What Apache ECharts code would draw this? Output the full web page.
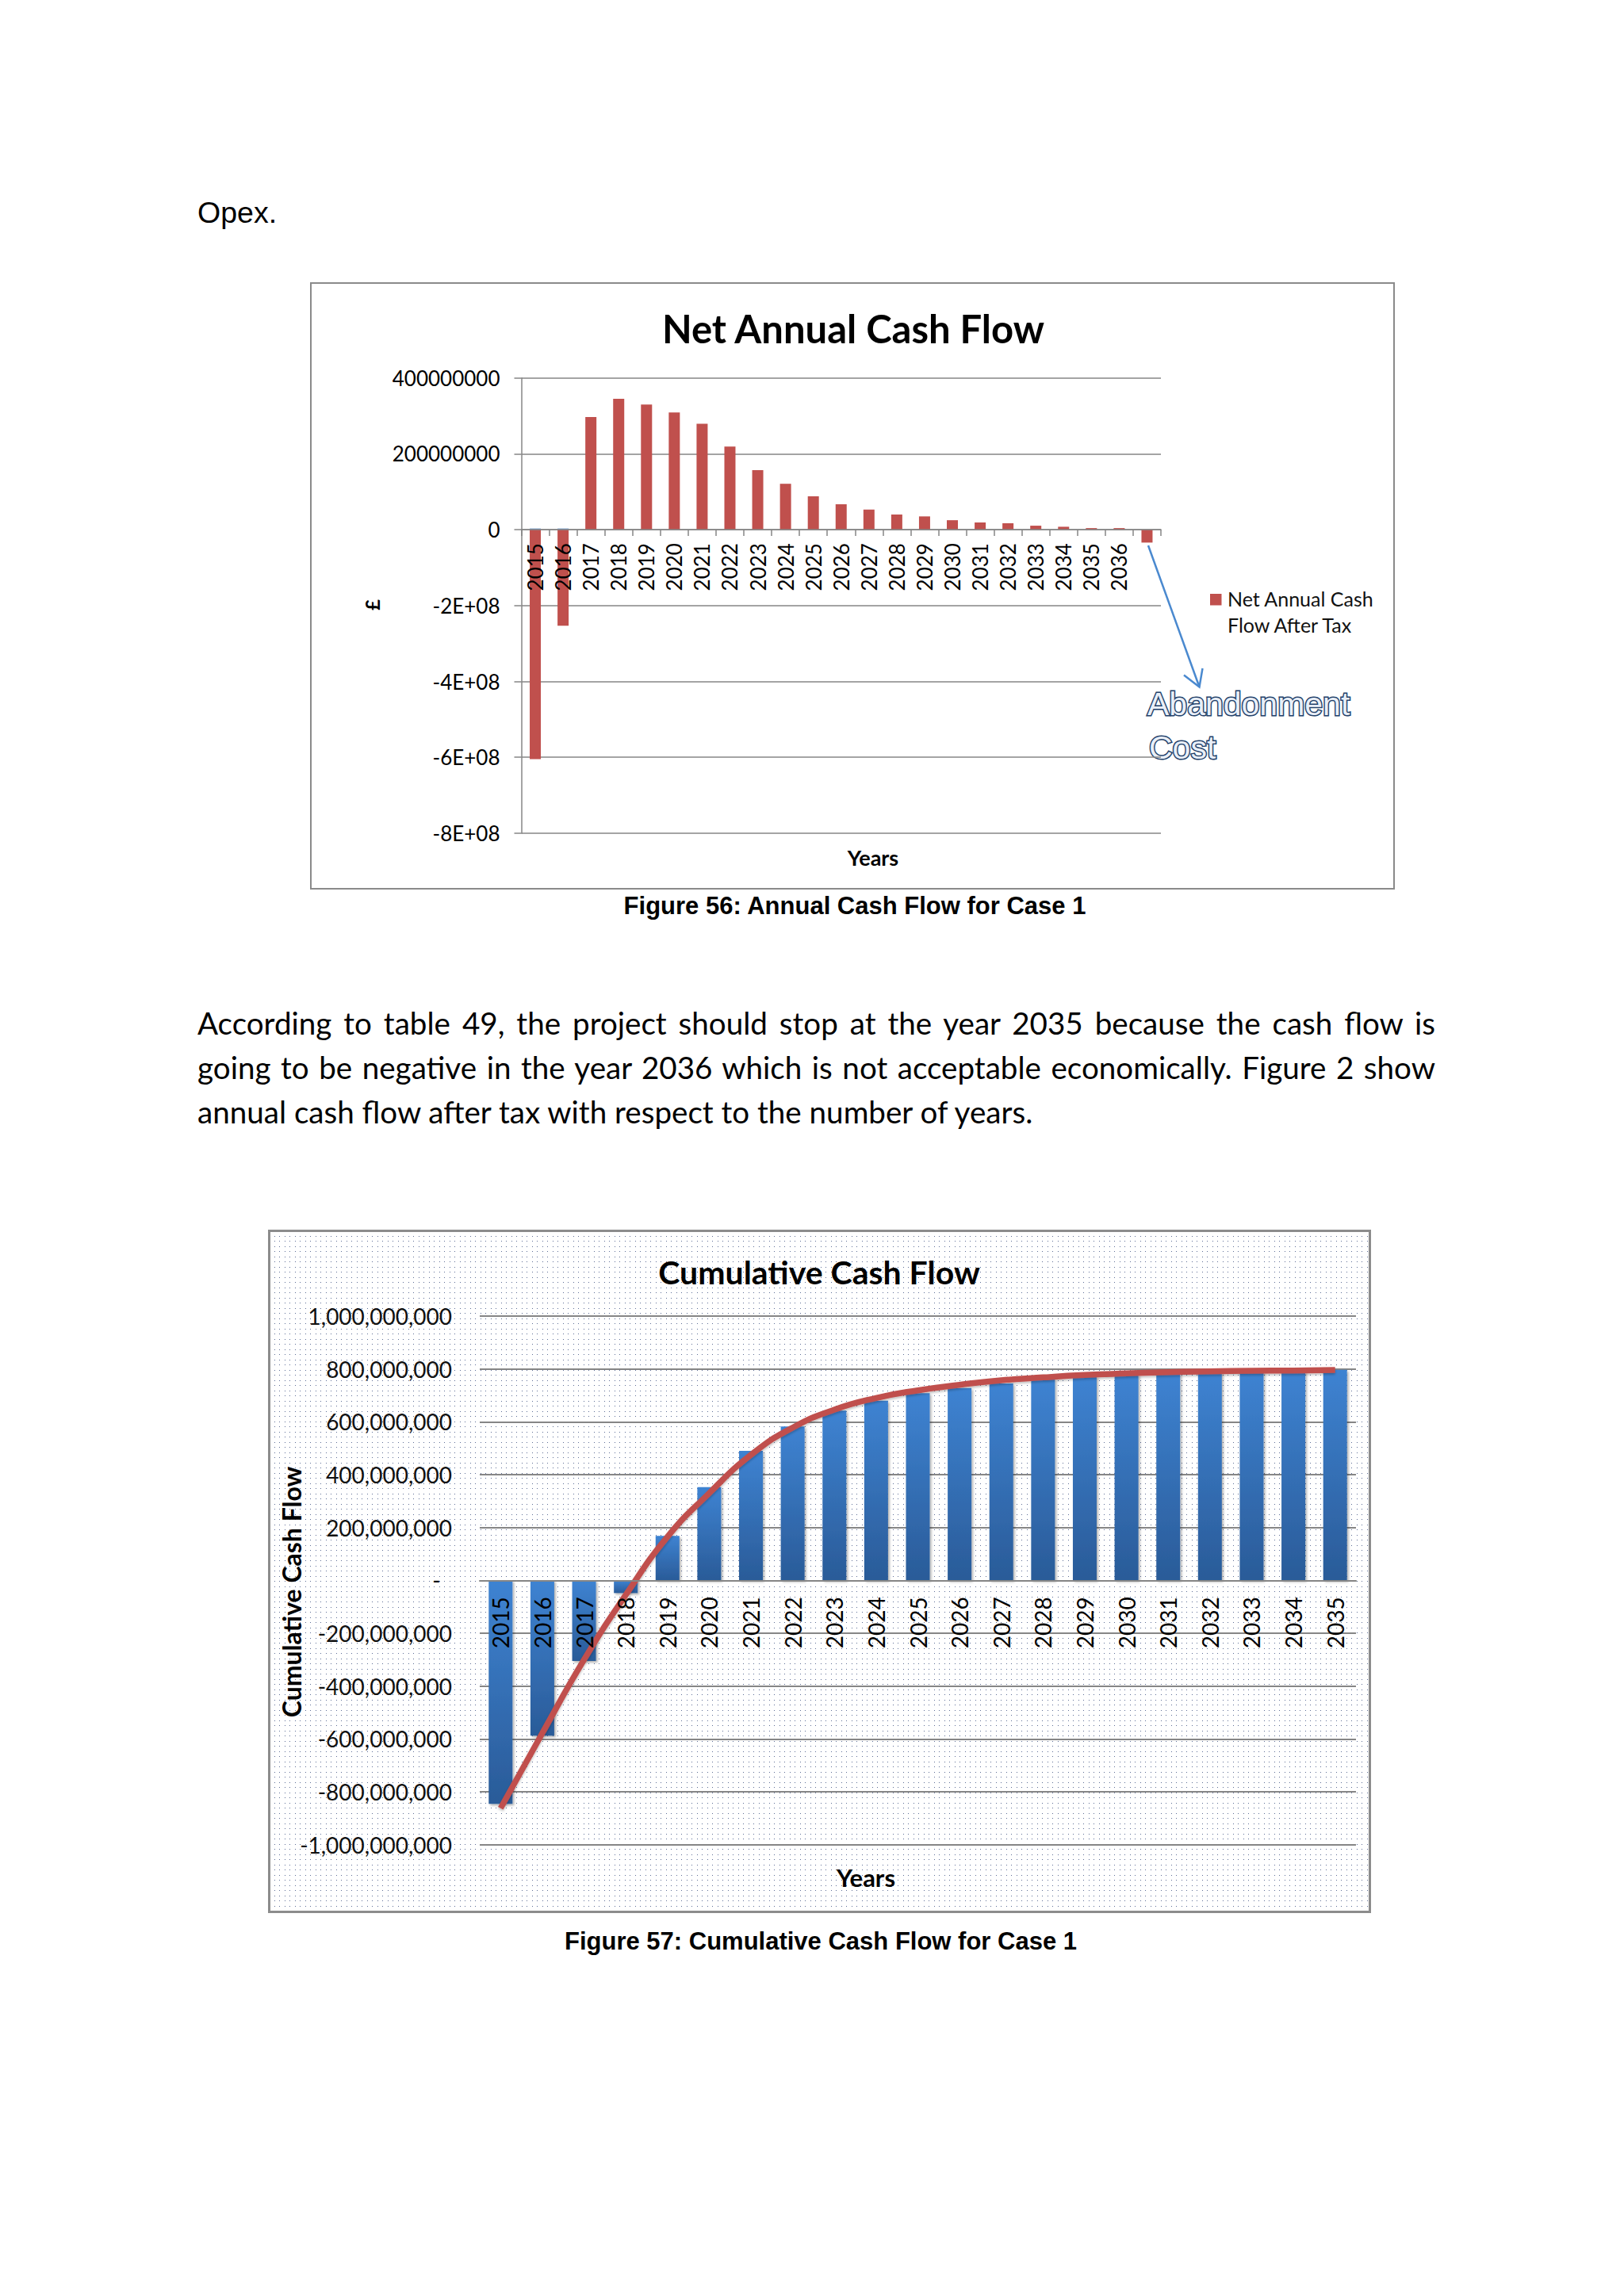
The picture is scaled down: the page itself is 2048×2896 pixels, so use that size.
<!DOCTYPE html>
<html>
<head>
<meta charset="utf-8">
<script src="https://cdn.jsdelivr.net/npm/echarts@6/dist/echarts.min.js"></script>
<style>
  html, body { margin: 0; padding: 0; background: #fff; }
  body { position: relative; width: 2048px; height: 2896px; overflow: hidden; }
  .abs { position: absolute; }
  #opex { left: 249px; top: 250px; font: 37.5px/37px "Liberation Sans", Arial, sans-serif; color: #000; white-space: nowrap; }
  .para { left: 249px; width: 1561px; font: 38.6px/56px Lato, sans-serif; color: #000; white-space: nowrap; }
  .just { text-align: justify; text-align-last: justify; }
  .cap { width: 1000px; text-align: center; font: bold 31px/30px "Liberation Sans", Arial, sans-serif; color: #000; white-space: nowrap; }
  #c1 { left: 391px; top: 356px; width: 1368px; height: 766px; }
  #f1 { left: 391px; top: 356px; width: 1368px; height: 766px; box-sizing: border-box; border: 2px solid #8a8a8a; pointer-events: none; }
  #c2 { left: 338px; top: 1551px; width: 1391px; height: 862px; background-color: #fff;
        background-image: url("data:image/svg+xml,%3Csvg xmlns='http://www.w3.org/2000/svg' width='13' height='13'%3E%3Cg fill='%235d6d95'%3E%3Crect x='1' y='1' width='1' height='1'/%3E%3Crect x='8' y='1' width='1' height='1'/%3E%3Crect x='1' y='8' width='1' height='1'/%3E%3Crect x='8' y='8' width='1' height='1'/%3E%3C/g%3E%3C/svg%3E");
        background-size: 13px 13px; }
  #f2 { left: 338px; top: 1551px; width: 1391px; height: 862px; box-sizing: border-box; border: 3px solid #8c8c8c; pointer-events: none; }
</style>
</head>
<body>
<div id="opex" class="abs">Opex.</div>

<div id="c1" class="abs"></div>
<div id="f1" class="abs"></div>
<div class="abs cap" style="left:578px; top:1128px;">Figure 56: Annual Cash Flow for Case 1</div>

<div class="abs para just" style="top:1262px;">According to table 49, the project should stop at the year 2035 because the cash flow is</div>
<div class="abs para just" style="top:1318px;">going to be negative in the year 2036 which is not acceptable economically. Figure 2 show</div>
<div class="abs para" style="top:1374px;">annual cash flow after tax with respect to the number of years.</div>

<div id="c2" class="abs"></div>
<div id="f2" class="abs"></div>
<div class="abs cap" style="left:535px; top:2434px;">Figure 57: Cumulative Cash Flow for Case 1</div>

<script>
// ---------- Chart 1 data: Net Annual Cash Flow ----------
const years1 = ['2015','2016','2017','2018','2019','2020','2021','2022','2023','2024','2025',
                '2026','2027','2028','2029','2030','2031','2032','2033','2034','2035','2036',''];
const netCashAfterTax = [-605e6,-253e6,297e6,345e6,330e6,309e6,279e6,219e6,157e6,121e6,88e6,
                         67e6,53e6,40e6,35e6,25e6,19e6,17e6,10.5e6,7.7e6,4.2e6,4.2e6,-34e6];
const blueMarks = [3e6,3e6,null,null,null,null,null,null,null,null,null,
                   null,null,null,null,null,null,null,null,null,null,null,null];
const y1Ticks = [-8e8,-6e8,-4e8,-2e8,0,2e8,4e8];
const y1TickLabels = ['-8E+08','-6E+08','-4E+08','-2E+08','0','200000000','400000000'];

// ---------- Chart 2 data: Cumulative Cash Flow ----------
const years2 = ['2015','2016','2017','2018','2019','2020','2021','2022','2023','2024','2025',
                '2026','2027','2028','2029','2030','2031','2032','2033','2034','2035'];
const cumulativeBars = [-846e6,-588e6,-305e6,-48e6,168e6,353e6,490e6,582e6,642e6,680e6,708e6,
                        728e6,745e6,762e6,772e6,779e6,785e6,788e6,791e6,793e6,797e6];
const cumulativeTrend = [-862e6,-578e6,-300e6,-55e6,165e6,330e6,475e6,578e6,646e6,690e6,719e6,
                         740e6,757e6,768e6,777e6,783e6,788e6,791e6,793e6,794e6,796e6];
const y2Ticks = [-1e9,-8e8,-6e8,-4e8,-2e8,0,2e8,4e8,6e8,8e8,1e9];
const y2TickLabels = ['-1,000,000,000','-800,000,000','-600,000,000','-400,000,000','-200,000,000','-  ',
                      '200,000,000','400,000,000','600,000,000','800,000,000','1,000,000,000'];

function tickLabel(ticks, labels) {
  return function (v) {
    for (let i = 0; i < ticks.length; i++) if (Math.abs(ticks[i] - v) < 1) return labels[i];
    return '';
  };
}

const GRAY = '#868686';

// ---------- Chart 1 ----------
const g1 = { left: 266.5, top: 120.7, width: 806.5, height: 574.2 };
const y1Min = -8e8, y1Max = 4e8;
const chart1 = echarts.init(document.getElementById('c1'), null, { renderer: 'svg' });
chart1.setOption({
  backgroundColor: 'transparent',
  animation: false,
  grid: Object.assign({ containLabel: false }, g1),
  xAxis: {
    type: 'category', data: years1, z: 10,
    // axis sits on the zero line: shift it up from the grid bottom by the zero position
    offset: -g1.height * (0 - y1Min) / (y1Max - y1Min),
    axisLine: { show: true, onZero: false, lineStyle: { color: GRAY, width: 1.5 } },
    axisTick: { show: true, length: 8, alignWithLabel: false, interval: 0, lineStyle: { color: GRAY, width: 1.5 } },
    axisLabel: { interval: 0, rotate: 90, margin: 17, fontFamily: 'Lato', fontSize: 26, color: '#000' },
    splitLine: { show: false }
  },
  yAxis: {
    type: 'value', min: y1Min, max: y1Max, interval: 2e8,
    axisLine: { show: true, lineStyle: { color: GRAY, width: 1.5 } },
    axisTick: { show: true, length: 9, lineStyle: { color: GRAY, width: 1.5 } },
    axisLabel: { margin: 27, fontFamily: 'Lato', fontSize: 26, color: '#000',
                 formatter: tickLabel(y1Ticks, y1TickLabels) },
    splitLine: { show: true, lineStyle: { color: GRAY, width: 1.5 } }
  },
  series: [
    { name: 'Net Annual Cash Flow After Tax', type: 'bar', data: netCashAfterTax, stack: 'a',
      barWidth: 14, itemStyle: { color: '#c0504d' }, z: 2 },
    { name: 'marks', type: 'bar', data: blueMarks, stack: 'a',
      barWidth: 14, itemStyle: { color: '#4f81bd' }, z: 2 }
  ],
  graphic: [
    { type: 'text', x: 685, y: 58, style: { text: 'Net Annual Cash Flow', font: 'bold 49px Lato',
      fill: '#000', align: 'center', verticalAlign: 'middle', textAlign: 'center', textVerticalAlign: 'middle' } },
    { type: 'text', x: 78, y: 407, rotation: Math.PI / 2, style: { text: '£', font: 'bold 24px Lato',
      fill: '#000', align: 'center', verticalAlign: 'middle', textAlign: 'center', textVerticalAlign: 'middle' } },
    { type: 'text', x: 710, y: 725, style: { text: 'Years', font: 'bold 27px Lato',
      fill: '#000', align: 'center', verticalAlign: 'middle', textAlign: 'center', textVerticalAlign: 'middle' } },
    { type: 'rect', shape: { x: 1135, y: 393, width: 14.5, height: 14.5 }, style: { fill: '#c0504d' } },
    { type: 'text', x: 1157, y: 382, style: { text: 'Net Annual Cash\nFlow After Tax', font: '25px Lato',
      lineHeight: 33, fill: '#111', align: 'left', verticalAlign: 'top', textAlign: 'left', textVerticalAlign: 'top' } },
    { type: 'polyline', shape: { points: [[1057, 332], [1121.5, 510.5]] },
      style: { stroke: '#4a89cf', lineWidth: 2.5, fill: null } },
    { type: 'polyline', shape: { points: [[1102, 495.5], [1121.5, 510.5], [1125.5, 487]] },
      style: { stroke: '#4a89cf', lineWidth: 2.5, fill: null } },
    { type: 'text', x: 1056, y: 532, style: { text: 'Abandonment', font: '41px "Liberation Sans"',
      fill: '#e9eff8', stroke: '#223f69', lineWidth: 3, shadowColor: 'rgba(90,110,150,0.45)', shadowBlur: 3,
      shadowOffsetX: 2, shadowOffsetY: 2, align: 'left', verticalAlign: 'middle', textAlign: 'left', textVerticalAlign: 'middle' } },
    { type: 'text', x: 1058, y: 587, style: { text: 'Cost', font: '41px "Liberation Sans"',
      fill: '#e9eff8', stroke: '#223f69', lineWidth: 3, shadowColor: 'rgba(90,110,150,0.45)', shadowBlur: 3,
      shadowOffsetX: 2, shadowOffsetY: 2, align: 'left', verticalAlign: 'middle', textAlign: 'left', textVerticalAlign: 'middle' } }
  ]
});

// ---------- Chart 2 ----------
const g2 = { left: 267, top: 109, width: 1105, height: 666.7 };
const y2Min = -1e9, y2Max = 1e9;
const chart2 = echarts.init(document.getElementById('c2'), null, { renderer: 'svg' });
chart2.setOption({
  backgroundColor: 'transparent',
  animation: false,
  grid: Object.assign({ containLabel: false }, g2),
  xAxis: {
    type: 'category', data: years2, z: 10,
    offset: -g2.height * (0 - y2Min) / (y2Max - y2Min),
    axisLine: { show: true, onZero: false, lineStyle: { color: GRAY, width: 2 } },
    axisTick: { show: false },
    axisLabel: { interval: 0, rotate: 90, margin: 21, fontFamily: 'Lato', fontSize: 28, color: '#000' },
    splitLine: { show: false }
  },
  yAxis: {
    type: 'value', min: y2Min, max: y2Max, interval: 2e8,
    axisLine: { show: false }, axisTick: { show: false },
    axisLabel: { margin: 35, fontFamily: 'Lato', fontSize: 28, color: '#111',
                 formatter: tickLabel(y2Ticks, y2TickLabels) },
    splitLine: { show: true, lineStyle: { color: GRAY, width: 2 } }
  },
  series: [
    { name: 'Cumulative Cash Flow', type: 'bar', data: cumulativeBars, barWidth: 30, z: 2,
      itemStyle: {
        color: new echarts.graphic.LinearGradient(0, 0, 0, 1, [
          { offset: 0, color: '#3e83d2' }, { offset: 1, color: '#2a5b98' }]),
        shadowColor: 'rgba(0,0,0,0.3)', shadowBlur: 3, shadowOffsetX: 2, shadowOffsetY: 2
      } },
    { name: 'Trend', type: 'line', data: cumulativeTrend, smooth: true, symbol: 'none', z: 5,
      lineStyle: { color: '#c0504d', width: 7.5, shadowColor: 'rgba(0,0,0,0.25)', shadowBlur: 3, shadowOffsetY: 2 } }
  ],
  graphic: [
    { type: 'text', x: 695, y: 53, style: { text: 'Cumulative Cash Flow', font: 'bold 41px Lato',
      fill: '#000', align: 'center', verticalAlign: 'middle', textAlign: 'center', textVerticalAlign: 'middle' } },
    { type: 'text', x: 29, y: 457, rotation: Math.PI / 2, style: { text: 'Cumulative Cash Flow', font: 'bold 32px Lato',
      fill: '#000', align: 'center', verticalAlign: 'middle', textAlign: 'center', textVerticalAlign: 'middle' } },
    { type: 'text', x: 754, y: 817, style: { text: 'Years', font: 'bold 31px Lato',
      fill: '#000', align: 'center', verticalAlign: 'middle', textAlign: 'center', textVerticalAlign: 'middle' } }
  ]
});
</script>
</body>
</html>
